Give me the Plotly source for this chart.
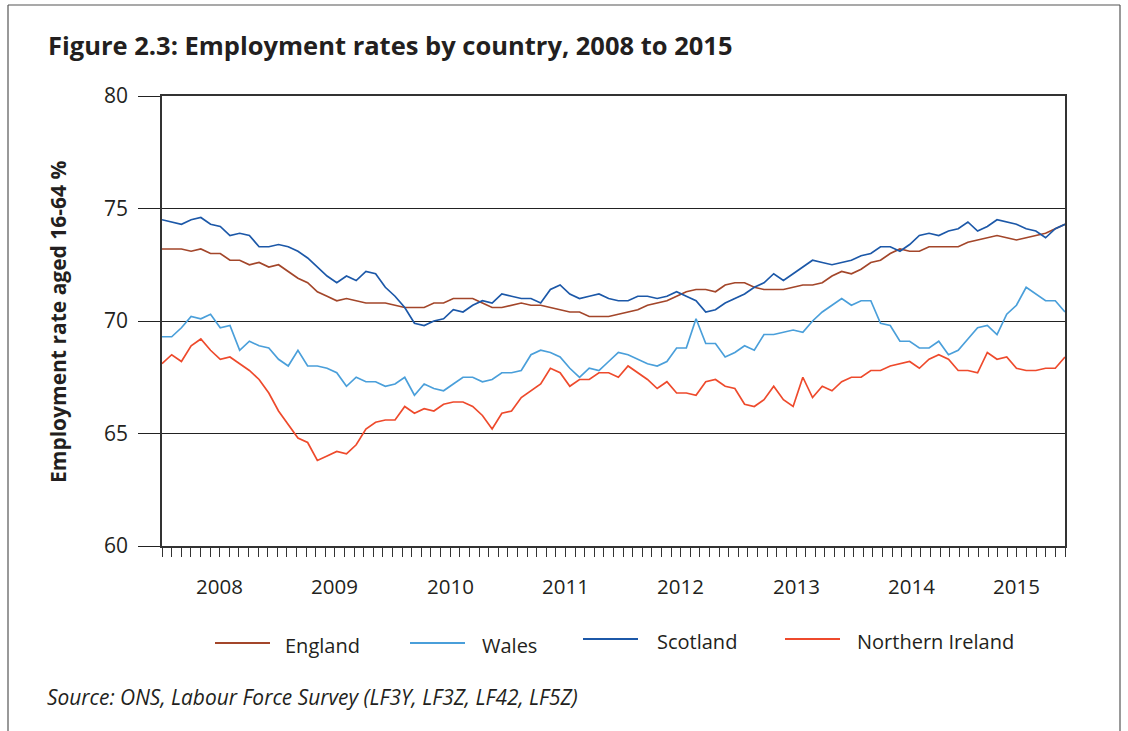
import plotly.graph_objects as go

# ---- data (monthly, rolling 3-month LFS, Jan 2008 onward) ----
england = [73.2, 73.2, 73.2, 73.1, 73.2, 73.0, 73.0, 72.7, 72.7, 72.5, 72.6, 72.4,
           72.5, 72.2, 71.9, 71.7, 71.3, 71.1, 70.9, 71.0, 70.9, 70.8, 70.8, 70.8,
           70.7, 70.6, 70.6, 70.6, 70.8, 70.8, 71.0, 71.0, 71.0, 70.8, 70.6, 70.6,
           70.7, 70.8, 70.7, 70.7, 70.6, 70.5, 70.4, 70.4, 70.2, 70.2, 70.2, 70.3,
           70.4, 70.5, 70.7, 70.8, 70.9, 71.1, 71.3, 71.4, 71.4, 71.3, 71.6, 71.7,
           71.7, 71.5, 71.4, 71.4, 71.4, 71.5, 71.6, 71.6, 71.7, 72.0, 72.2, 72.1,
           72.3, 72.6, 72.7, 73.0, 73.2, 73.1, 73.1, 73.3, 73.3, 73.3, 73.3, 73.5,
           73.6, 73.7, 73.8, 73.7, 73.6, 73.7, 73.8, 73.9, 74.1, 74.3]
wales = [69.3, 69.3, 69.7, 70.2, 70.1, 70.3, 69.7, 69.8, 68.7, 69.1, 68.9, 68.8,
         68.3, 68.0, 68.7, 68.0, 68.0, 67.9, 67.7, 67.1, 67.5, 67.3, 67.3, 67.1,
         67.2, 67.5, 66.7, 67.2, 67.0, 66.9, 67.2, 67.5, 67.5, 67.3, 67.4, 67.7,
         67.7, 67.8, 68.5, 68.7, 68.6, 68.4, 67.9, 67.5, 67.9, 67.8, 68.2, 68.6,
         68.5, 68.3, 68.1, 68.0, 68.2, 68.8, 68.8, 70.1, 69.0, 69.0, 68.4, 68.6,
         68.9, 68.7, 69.4, 69.4, 69.5, 69.6, 69.5, 70.0, 70.4, 70.7, 71.0, 70.7,
         70.9, 70.9, 69.9, 69.8, 69.1, 69.1, 68.8, 68.8, 69.1, 68.5, 68.7, 69.2,
         69.7, 69.8, 69.4, 70.3, 70.7, 71.5, 71.2, 70.9, 70.9, 70.4]
scotland = [74.5, 74.4, 74.3, 74.5, 74.6, 74.3, 74.2, 73.8, 73.9, 73.8, 73.3, 73.3,
            73.4, 73.3, 73.1, 72.8, 72.4, 72.0, 71.7, 72.0, 71.8, 72.2, 72.1, 71.5,
            71.1, 70.6, 69.9, 69.8, 70.0, 70.1, 70.5, 70.4, 70.7, 70.9, 70.8, 71.2,
            71.1, 71.0, 71.0, 70.8, 71.4, 71.6, 71.2, 71.0, 71.1, 71.2, 71.0, 70.9,
            70.9, 71.1, 71.1, 71.0, 71.1, 71.3, 71.1, 70.9, 70.4, 70.5, 70.8, 71.0,
            71.2, 71.5, 71.7, 72.1, 71.8, 72.1, 72.4, 72.7, 72.6, 72.5, 72.6, 72.7,
            72.9, 73.0, 73.3, 73.3, 73.1, 73.4, 73.8, 73.9, 73.8, 74.0, 74.1, 74.4,
            74.0, 74.2, 74.5, 74.4, 74.3, 74.1, 74.0, 73.7, 74.1, 74.3]
northern_ireland = [68.1, 68.5, 68.2, 68.9, 69.2, 68.7, 68.3, 68.4, 68.1, 67.8, 67.4, 66.8,
                    66.0, 65.4, 64.8, 64.6, 63.8, 64.0, 64.2, 64.1, 64.5, 65.2, 65.5, 65.6,
                    65.6, 66.2, 65.9, 66.1, 66.0, 66.3, 66.4, 66.4, 66.2, 65.8, 65.2, 65.9,
                    66.0, 66.6, 66.9, 67.2, 67.9, 67.7, 67.1, 67.4, 67.4, 67.7, 67.7, 67.5,
                    68.0, 67.7, 67.4, 67.0, 67.3, 66.8, 66.8, 66.7, 67.3, 67.4, 67.1, 67.0,
                    66.3, 66.2, 66.5, 67.1, 66.5, 66.2, 67.5, 66.6, 67.1, 66.9, 67.3, 67.5,
                    67.5, 67.8, 67.8, 68.0, 68.1, 68.2, 67.9, 68.3, 68.5, 68.3, 67.8, 67.8,
                    67.7, 68.6, 68.3, 68.4, 67.9, 67.8, 67.8, 67.9, 67.9, 68.4]

series_names = ["England", "Wales", "Scotland", "Northern Ireland"]
series_colors = ["#A3462A", "#4A9FDA", "#1C58A8", "#EE4A2C"]
years = ["2008", "2009", "2010", "2011", "2012", "2013", "2014", "2015"]
y_ticks = [60, 65, 70, 75, 80]
n_ticks_months = 94  # tick intervals drawn on the axis

n = len(england)
x = list(range(n))
last = n - 1
scale = last / n_ticks_months  # tick-unit -> data-unit

FONT = "Open Sans"
TXT = "#231f20"

fig = go.Figure()
for name, vals, col in zip(series_names, [england, wales, scotland, northern_ireland], series_colors):
    fig.add_trace(go.Scatter(x=x, y=vals, mode="lines", name=name,
                             line=dict(color=col, width=1.7), showlegend=False))

L, R, T, B = 162, 63, 96, 185
W, H = 1128 - L - R, 731 - T - B


def px(xpix):
    return (xpix - L) / W


def py(ypix):
    return (731 - B - ypix) / H


major = [k * scale for k in range(0, n_ticks_months + 1, 12)] + [last]
minor = [k * scale for k in range(n_ticks_months + 1)]

fig.update_layout(
    width=1128, height=731,
    margin=dict(l=L, r=R, t=T, b=B),
    paper_bgcolor="white", plot_bgcolor="white",
    font=dict(family=FONT, color=TXT),
    xaxis=dict(range=[0, last], showgrid=False, zeroline=False,
               showline=True, linecolor="#333", linewidth=1.5, mirror=True,
               tickmode="array", tickvals=major, ticktext=[""] * len(major),
               ticks="outside", ticklen=21, tickwidth=1.3, tickcolor="#333",
               minor=dict(tickvals=minor, ticks="outside", ticklen=9,
                          tickwidth=1.1, tickcolor="#333", showgrid=False)),
    yaxis=dict(range=[60, 80], tickvals=y_ticks, showgrid=True, gridcolor="#222",
               gridwidth=1.4, zeroline=False, showline=True, linecolor="#333",
               linewidth=1.5, mirror=True, ticks="outside", ticklen=22,
               tickwidth=1.4, tickcolor="#222", ticklabelstandoff=6,
               tickfont=dict(size=21, color=TXT)),
)

# year labels centred in each year group
for k, yr in enumerate(years):
    start = 12 * k
    end = min(12 * (k + 1), n_ticks_months)
    fig.add_annotation(x=(start + end) / 2 * scale, xref="x", y=py(586), yref="paper",
                       text=yr, showarrow=False, font=dict(size=20.5, color=TXT),
                       xanchor="center", yanchor="middle")

# title, axis title, source
fig.add_annotation(x=px(46), y=py(45), xref="paper", yref="paper", xanchor="left",
                   yanchor="middle", showarrow=False,
                   text="<b>Figure 2.3: Employment rates by country, 2008 to 2015</b>",
                   font=dict(size=25.5, color=TXT))
fig.add_annotation(x=px(58), y=py(322), xref="paper", yref="paper", textangle=-90,
                   xanchor="center", yanchor="middle", showarrow=False,
                   text="<b>Employment rate aged 16-64 %</b>", font=dict(size=21, color=TXT))
fig.add_annotation(x=px(45), y=py(697), xref="paper", yref="paper", xanchor="left",
                   yanchor="middle", showarrow=False,
                   text="<i>Source: ONS, Labour Force Survey (LF3Y, LF3Z, LF42, LF5Z)</i>",
                   font=dict(size=20.9, color=TXT))

# manual legend
legend_pos = [(215, 643, 283, 645), (410, 643, 480, 645), (583, 639, 655, 641), (785, 639, 855, 641)]
for (x0, ly, tx, ty), name, col in zip(legend_pos, series_names, series_colors):
    fig.add_shape(type="line", xref="paper", yref="paper", x0=px(x0), x1=px(x0 + 55),
                  y0=py(ly), y1=py(ly), line=dict(color=col, width=2.2))
    fig.add_annotation(x=px(tx), y=py(ty), xref="paper", yref="paper", xanchor="left",
                       yanchor="middle", showarrow=False, text=name,
                       font=dict(size=20, color=TXT))

# outer frame
frame = dict(color="#555", width=1.2)
fig.add_shape(type="line", xref="paper", yref="paper", x0=px(8), x1=px(1120), y0=py(5), y1=py(5), line=frame)
fig.add_shape(type="line", xref="paper", yref="paper", x0=px(8), x1=px(8), y0=py(5), y1=py(731), line=frame)
fig.add_shape(type="line", xref="paper", yref="paper", x0=px(1120), x1=px(1120), y0=py(5), y1=py(731), line=frame)

fig.write_html("out.html", config={"displayModeBar": False},
               post_script="document.body.style.margin='0px';"
                           "document.documentElement.style.overflow='hidden';")
